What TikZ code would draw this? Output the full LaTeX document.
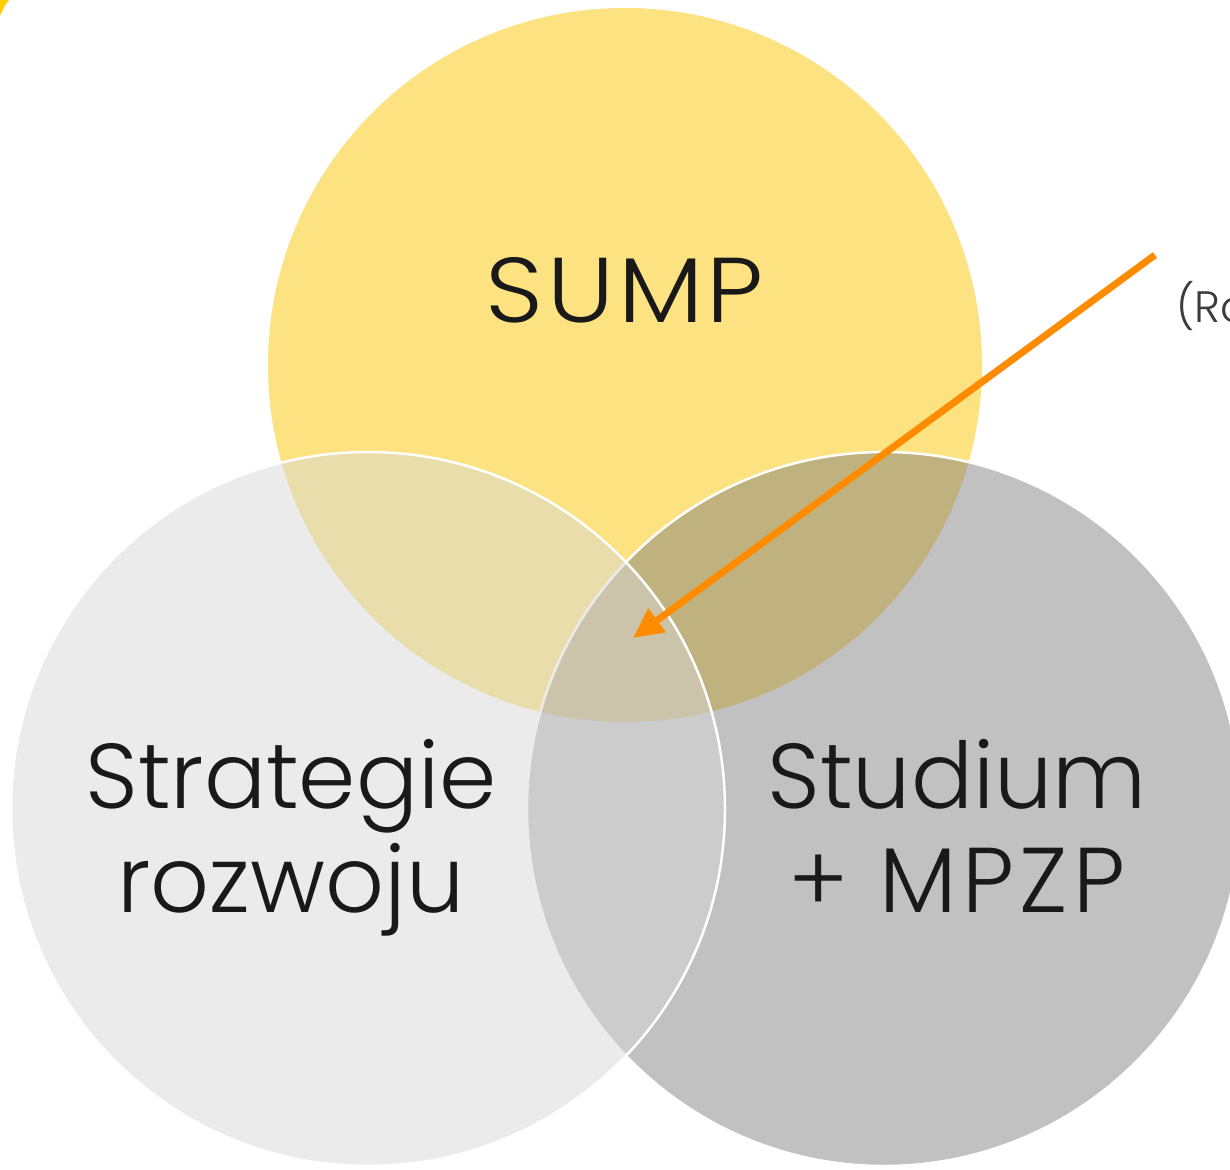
\documentclass[tikz,border=0pt]{standalone}
\usepackage{fontspec}
\setmainfont{Poppins}[UprightFont=* Light]
\usetikzlibrary{arrows.meta}

\definecolor{sumpyellow}{RGB}{253,226,130}
\definecolor{cornergold}{RGB}{255,204,0}
\definecolor{midgray}{RGB}{124,124,124}
\definecolor{lightgray}{RGB}{216,216,216}
\definecolor{pointer}{RGB}{255,140,0}
\definecolor{notegray}{RGB}{60,60,60}

\tikzset{
  venn/.style={circle, inner sep=0pt, minimum size=714pt},
  ring/.style={venn, draw=white, line width=2.5pt},
  biglabel/.style={inner sep=0pt, text=black!90, font=\fontsize{92}{104}\selectfont, align=center},
}

\begin{document}
\begin{tikzpicture}[x=1pt, y=-1pt]
  \useasboundingbox (0,0) rectangle (1230,1169);
  \fill[white] (0,0) rectangle (1230,1169);

  % corner accent
  \fill[cornergold] (0,0) -- (9,0) .. controls (5,5) .. (0,16) -- cycle;

  % the three sets
  \node[venn, fill=sumpyellow] (sump) at (625,365) {};
  \node[ring, fill=midgray, fill opacity=0.47] (studium) at (884,809) {};
  \node[ring, fill=lightgray, fill opacity=0.49] (strategie) at (368,809) {};

  % labels
  \node[biglabel, anchor=base] (sumplabel) at (625,322) {\addfontfeatures{FakeStretch=1.1, LetterSpace=4}SUMP};
  \node[biglabel, anchor=center] (stratlabel) at (291,838) {Strategie\\rozwoju};
  \node[biglabel, anchor=center] (studlabel) at (957,826) {Studium\\\addfontfeatures{LetterSpace=6}+ MPZP};

  % pointer into the common part
  \coordinate (ptrstart) at (1155,255);
  \coordinate (ptrtip) at (633,638);
  \draw[pointer, line width=7pt, -{Triangle[length=30pt, width=28pt]}] (ptrstart) -- (ptrtip);

  \node[anchor=base west, inner sep=0pt, text=notegray, font=\fontsize{44}{50}\selectfont] (note) at (1176,322) {(Ro};
\end{tikzpicture}
\end{document}
